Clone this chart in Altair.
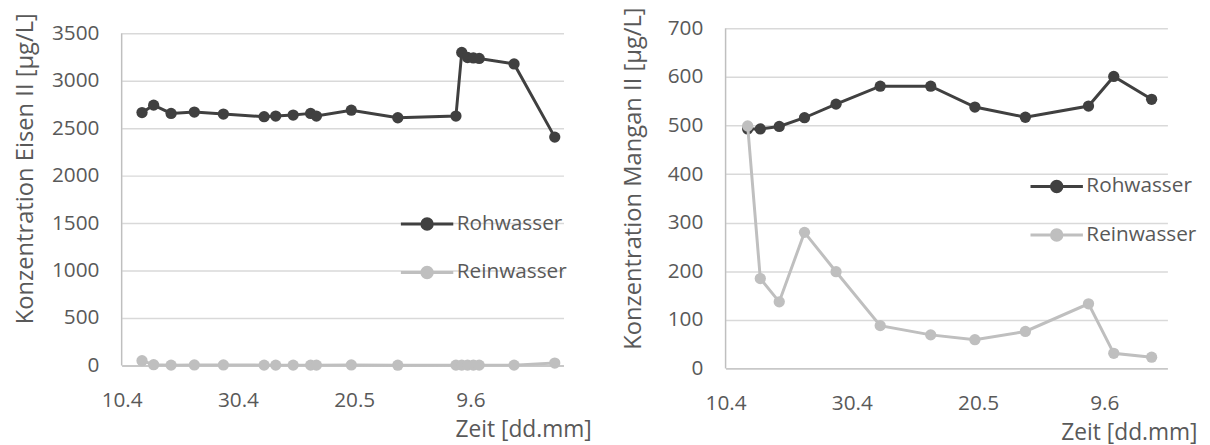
import altair as alt
import pandas as pd

YEAR = 2019
SERIES = ["Rohwasser", "Reinwasser"]
COLORS = ["#404040", "#bfbfbf"]
TEXT = "#595959"
AXIS_LINE = "#bfbfbf"
GRID = "#d9d9d9"
FONT = "Open Sans"

# Eisen II panel (dd.m)
eisen_dates = ["13.4", "15.4", "18.4", "22.4", "27.4", "4.5", "6.5", "9.5", "12.5", "13.5",
               "19.5", "27.5", "6.6", "7.6", "8.6", "9.6", "10.6", "16.6", "23.6"]
eisen_roh = [2665, 2743, 2656, 2670, 2649, 2621, 2628, 2638, 2656, 2628,
             2690, 2610, 2628, 3298, 3245, 3240, 3235, 3177, 2406]
eisen_rein = [50, 8, 3, 5, 5, 3, 3, 3, 3, 3,
              5, 2, 3, 3, 3, 3, 3, 3, 25]

# Mangan II panel (dd.m)
mangan_dates = ["13.4", "15.4", "18.4", "22.4", "27.4", "4.5", "12.5", "19.5", "27.5",
                "6.6", "10.6", "16.6"]
mangan_roh = [493, 493, 498, 516, 544, 581, 581, 538, 517, 540, 601, 554]
mangan_rein = [499, 185, 137, 280, 199, 88, 69, 59, 76, 133, 31, 23]

x_tick_dates = ["10.4", "30.4", "20.5", "9.6"]


def ts(d):
    # Excel date axis places each point in the middle of its day
    day, month = d.split(".")
    return pd.Timestamp(year=YEAR, month=int(month), day=int(day)) + pd.Timedelta(hours=12)


def dt(d):
    day, month = d.split(".")
    return alt.DateTime(year=YEAR, month=int(month), date=int(day))


LEG_SYMBOL = "M-1,0L1,0M-0.2,0A0.2,0.2,0,1,0,0.2,0A0.2,0.2,0,1,0,-0.2,0Z"


def panel(dates, roh, rein, ytitle, ymax, ystep, xstart, xend, w, h, top_gap,
          leg_x, leg_y, title_y, title_pad, xtitle_x):
    rows = []
    for s, vals in zip(SERIES, [roh, rein]):
        for d, v in zip(dates, vals):
            rows.append({"Datum": ts(d), "Wert": v, "Serie": s})
    df = pd.DataFrame(rows)

    color = alt.Color(
        "Serie:N",
        scale=alt.Scale(domain=SERIES, range=COLORS),
        sort=SERIES,
        legend=alt.Legend(
            title=None, orient="none", legendX=leg_x, legendY=leg_y,
            symbolType=LEG_SYMBOL, symbolSize=2809, symbolStrokeWidth=3,
            labelFont=FONT, labelFontSize=21, labelColor=TEXT,
            labelOffset=2, rowPadding=9, padding=0,
        ),
    )
    xscale = alt.Scale(domain=[dt(xstart), dt(xend)])
    yscale = alt.Scale(domain=[0, ymax], nice=False, range=[h + top_gap, top_gap])
    x = alt.X(
        "Datum:T",
        scale=xscale,
        axis=alt.Axis(
            values=[dt(d) for d in x_tick_dates], format="%-d.%-m", formatType="time",
            grid=False, ticks=False, domainColor=AXIS_LINE, domainWidth=1.5,
            labelFont=FONT, labelFontSize=21, labelColor=TEXT, labelPadding=25,
            labelFlush=False, labelOverlap=False,
            title="Zeit [dd.mm]", titleFont=FONT, titleFontSize=23, titleColor=TEXT,
            titleFontWeight="normal", titleX=xtitle_x, titleY=65, titleAlign="right",
            titleBaseline="middle", titleAnchor="end",
        ),
    )
    y = alt.Y(
        "Wert:Q",
        scale=yscale,
        axis=alt.Axis(
            values=list(range(0, ymax + 1, ystep)), format="d", grid=True, gridColor=GRID,
            gridWidth=1.5, ticks=False, domain=False,
            labelFont=FONT, labelFontSize=21, labelColor=TEXT, labelPadding=23,
            title=ytitle, titleFont=FONT, titleFontSize=24, titleColor=TEXT,
            titleFontWeight="normal", titlePadding=title_pad, titleY=title_y,
        ),
    )
    layers = []
    for s in SERIES:
        base = alt.Chart(df).transform_filter(alt.datum.Serie == s).encode(x=x, y=y, color=color)
        layers.append(base.mark_line(strokeWidth=3))
        layers.append(base.mark_point(filled=True, size=130, opacity=1))
    # vertical axis line from 0 to the top value, placed through the data scales
    axis_line = alt.Chart(pd.DataFrame({"k": [0]})).mark_rule(
        color=AXIS_LINE, strokeWidth=1.5
    ).encode(
        x=alt.datum(dt(xstart)),
        y=alt.datum(0),
        y2=alt.datum(ymax),
    )
    layers.append(axis_line)
    return alt.layer(*layers).properties(width=w, height=h + top_gap)


left = panel(eisen_dates, eisen_roh, eisen_rein, "Konzentration Eisen II [µg/L]",
             3500, 500, "10.4", "25.6", 447, 336, 5, 281, 170, 141.5, 14, 475)
right = panel(mangan_dates, mangan_roh, mangan_rein, "Konzentration Mangan II [µg/L]",
              700, 100, "10.4", "19.6", 447, 344, 0, 307, 132, 151.5, 22, 477)

chart = alt.hconcat(left, right, spacing=30).resolve_scale(
    color="independent"
).resolve_legend(color="independent").configure(
    font=FONT, background="white", view=alt.ViewConfig(stroke=None)
).properties(padding={"left": 5, "top": -4, "right": 5, "bottom": 5})

chart.save("out.html", embed_options={"renderer": "svg", "actions": False})
